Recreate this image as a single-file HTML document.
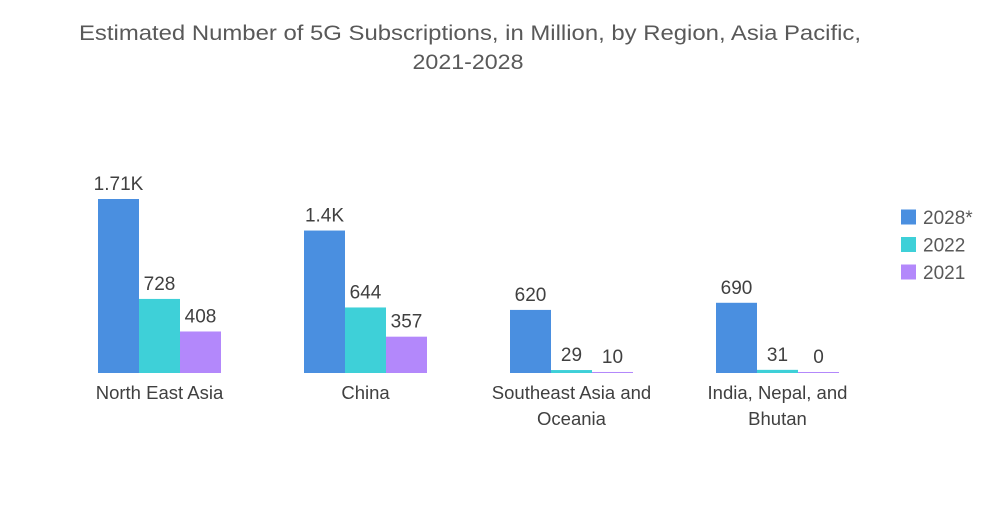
<!DOCTYPE html>
<html><head><meta charset="utf-8"><style>
body{margin:0;background:#fff;font-family:"Liberation Sans",sans-serif;}
svg text{font-family:"Liberation Sans",sans-serif;}
</style></head><body>
<svg width="1000" height="504" viewBox="0 0 1000 504">
<text x="470" y="40" text-anchor="middle" font-size="21" fill="#595959" textLength="782" lengthAdjust="spacingAndGlyphs">Estimated Number of 5G Subscriptions, in Million, by Region, Asia Pacific,</text>
<text x="468" y="69" text-anchor="middle" font-size="21" fill="#595959" textLength="111" lengthAdjust="spacingAndGlyphs">2021-2028</text>
<g id="bars"></g>
<g id="legend"></g>
</svg>
<script>
const categories=[["North East Asia"],["China"],["Southeast Asia and","Oceania"],["India, Nepal, and","Bhutan"]];
const seriesNames=["2028*","2022","2021"];
const v2028=[1710,1400,620,690];
const v2022=[728,644,29,31];
const v2021=[408,357,10,0];
const labels2028=["1.71K","1.4K","620","690"];
const labels2022=["728","644","29","31"];
const labels2021=["408","357","10","0"];
const colors=["#4a8fe0","#3ed0d8","#b388fb"];
const series=[v2028,v2022,v2021];
const slabels=[labels2028,labels2022,labels2021];
const NS="http://www.w3.org/2000/svg";
const baseY=373, scale=174/1710;
function y(v){return baseY-v*scale;}
function gx(i){return 98+i*206;}
const bw=41;
const g=document.getElementById('bars');
function mk(t,a){const e=document.createElementNS(NS,t);for(const k in a)e.setAttribute(k,a[k]);return e;}
categories.forEach((c,i)=>{
  series.forEach((s,j)=>{
    const x=gx(i)+j*bw, h=Math.max(s[i]*scale,1);
    const r=mk('rect',{x:x,y:baseY-h,width:bw,height:h,fill:colors[j]});
    
    
    g.appendChild(r);
    const t=mk('text',{x:x+bw/2,y:baseY-h-9,'text-anchor':'middle','font-size':19,fill:'#404040'});
    t.textContent=slabels[j][i];
    
    
    g.appendChild(t);
  });
  c.forEach((line,k)=>{
    const t=mk('text',{x:gx(i)+bw*1.5,y:399+k*26,'text-anchor':'middle','font-size':18.5,fill:'#404040'});
    t.textContent=line;
    
    
    g.appendChild(t);
  });
});
const lg=document.getElementById('legend');
seriesNames.forEach((n,j)=>{
  const cy=217+j*27.5;
  const r=mk('rect',{x:901,y:cy-7.5,width:15,height:15,fill:colors[j]});
  
  
  lg.appendChild(r);
  const t=mk('text',{x:923,y:cy+7,'font-size':19,fill:'#595959'});
  t.textContent=n;
  
  
  lg.appendChild(t);
});
</script>
</body></html>
